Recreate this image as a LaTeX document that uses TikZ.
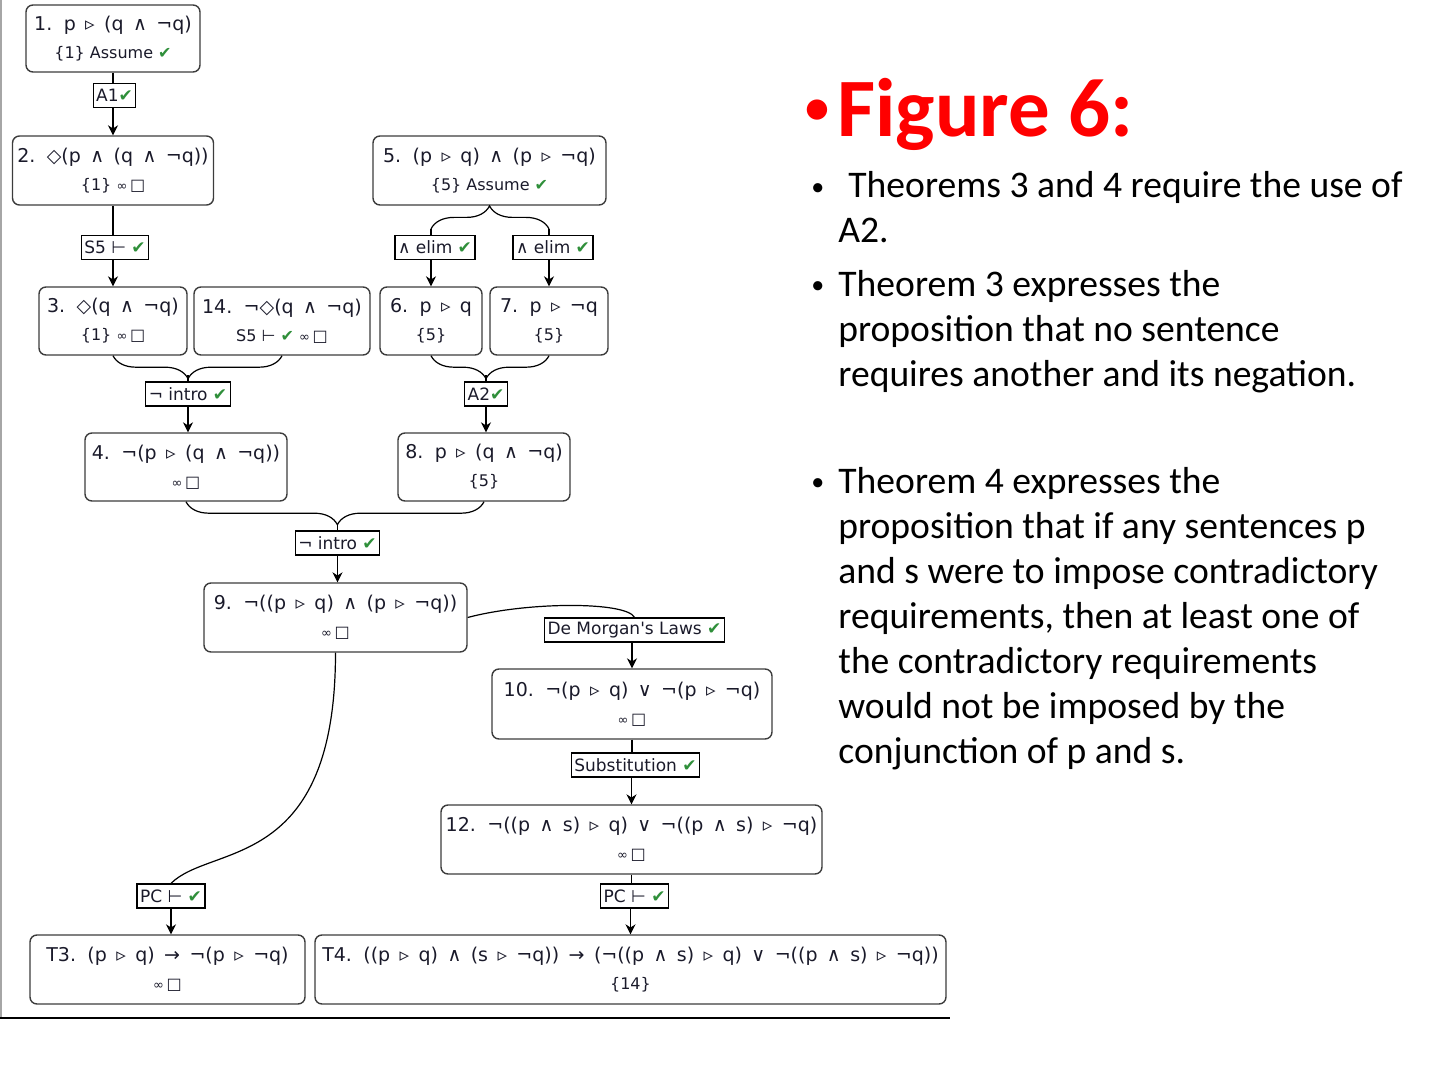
\documentclass[tikz,border=0pt]{standalone}
\usepackage{fontspec}
\setmainfont{Carlito}
\newfontfamily\pfont{DejaVu Sans}
\usetikzlibrary{arrows.meta,calc,decorations.pathreplacing}
\definecolor{cInk}  {HTML}{1A1A2A}
\definecolor{cTick} {HTML}{2F8F3A}
\definecolor{cFrame}{HTML}{3C3C3C}
\definecolor{cRule} {HTML}{A6A6A6}
\definecolor{cHead} {HTML}{FF0000}
\newcommand{\ok}{\textcolor{cTick}{✔}}
\newcommand{\nec}{{\fontsize{6.5}{8}\selectfont ∞}\,□}
\newcommand{\scnd}{\fontsize{8}{10}\selectfont\spaceskip=0pt\relax}
\newcommand{\wide}{\spaceskip=4.7pt plus 1pt minus 1pt\relax}
\tikzset{
  prf/.style    ={draw=cFrame,line width=0.7pt,rounded corners=3.5pt,align=center,
                  inner sep=0pt,text=cInk,font=\pfont\fontsize{9.5}{14}\selectfont\wide},
  rulebox/.style={draw=black,line width=0.6pt,inner xsep=1.5pt,inner ysep=0pt,
                  minimum height=12pt,text=cInk,font=\pfont\fontsize{8.5}{10}\selectfont},
  con/.style    ={draw=black,line width=0.6pt},
  arr/.style    ={con,-{Stealth[length=5pt,width=5pt]}},
  brc/.style    ={con,decorate,decoration={brace,amplitude=11.5pt,aspect=#1}},
  bul/.style    ={anchor=base west,inner sep=0pt,align=left,text=black,
                  font=\fontsize{18.8}{22.5}\selectfont},
  dot/.style    ={anchor=base west,inner sep=0pt,text=black,font=\fontsize{13}{13}\selectfont},
}

\begin{document}
\begin{tikzpicture}[x=0.5pt,y=-0.5pt]
\useasboundingbox (0,0) rectangle (1440,1080);

% ===== edge of the cut-out =================================================
\draw[cRule,line width=0.8pt] (1,0) -- (1,1018);
\draw[black,line width=1pt] (0,1018) -- (950,1018);

% ===== left branch: assumption 1 ===========================================
\node[prf,minimum width=87pt,minimum height=33.5pt] (n1) at (113,38.5)
  {1. p ▹ (q ∧ ¬q)\\{\scnd\{1\} Assume \ok}};
\node[rulebox] (a1) at (114.5,95.5) {A1\ok};
\node[prf,minimum width=100.5pt,minimum height=34.5pt] (n2) at (113,170.5)
  {2. ◇(p ∧ (q ∧ ¬q))\\{\scnd\{1\} \nec}};
\node[rulebox] (s5) at (115,247.5) {S5 ⊢ \ok};
\node[prf,minimum width=74pt,minimum height=34pt] (n3) at (113,321)
  {3. ◇(q ∧ ¬q)\\{\scnd\{1\} \nec}};
\node[prf,minimum width=88pt,minimum height=34pt] (n14) at (282,321)
  {14. ¬◇(q ∧ ¬q)\\{\scnd S5 ⊢ \ok\ \nec}};
\node[rulebox] (ni1) at (188,394) {¬ intro \ok};
\node[prf,minimum width=101pt,minimum height=34pt] (n4) at (186,467)
  {4. ¬(p ▹ (q ∧ ¬q))\\{\scnd\nec}};

\draw[con] (n1.south) -- (n1.south |- a1.north);
\draw[arr] (n2.north |- a1.south) -- (n2.north);
\draw[con] (n2.south) -- (n2.south |- s5.north);
\draw[arr] (n3.north |- s5.south) -- (n3.north);
\draw[brc=0.556] (n14.south) -- (n3.south);
\draw[con] ($(ni1.north)+(0,-6)$) -- (ni1.north);
\draw[arr] (ni1.south) -- (ni1.south |- n4.north);

% ===== right branch: assumption 5 ==========================================
\node[prf,minimum width=116.5pt,minimum height=34.5pt] (n5) at (489.5,170.5)
  {5. (p ▹ q) ∧ (p ▹ ¬q)\\{\scnd\{5\} Assume \ok}};
\node[rulebox] (e1) at (435,247.5) {∧ elim \ok};
\node[rulebox] (e2) at (553,247.5) {∧ elim \ok};
\node[prf,minimum width=51pt,minimum height=34pt] (n6) at (431,321)
  {6. p ▹ q\\{\scnd\{5\}}};
\node[prf,minimum width=59pt,minimum height=34pt] (n7) at (549,321)
  {7. p ▹ ¬q\\{\scnd\{5\}}};
\node[rulebox] (a2) at (486,394) {A2\ok};
\node[prf,minimum width=86pt,minimum height=34pt] (n8) at (484,467)
  {8. p ▹ (q ∧ ¬q)\\{\scnd\{5\}}};

\coordinate (u6) at ($(n6.north |- e1.north)+(0,-6)$);
\coordinate (u7) at ($(n7.north |- e2.north)+(0,-6)$);
\draw[brc=0.496] (u6) -- (u7);
\draw[con] (u6) -- (u6 |- e1.north);
\draw[con] (u7) -- (u7 |- e2.north);
\draw[arr] (n6.north |- e1.south) -- (n6.north);
\draw[arr] (n7.north |- e2.south) -- (n7.north);
\draw[brc=0.534] (n7.south) -- (n6.south);
\draw[con] ($(a2.north)+(0,-6)$) -- (a2.north);
\draw[arr] (a2.south) -- (a2.south |- n8.north);

% ===== merge and the two theorems ==========================================
\node[rulebox] (ni2) at (337.5,543) {¬ intro \ok};
\node[prf,minimum width=131.5pt,minimum height=34.5pt] (n9) at (335.5,617.5)
  {9. ¬((p ▹ q) ∧ (p ▹ ¬q))\\{\scnd\nec}};
\node[rulebox] (dm) at (634.5,630) {De Morgan's Laws \ok};
\node[prf,minimum width=140pt,minimum height=35pt] (n10) at (632,704)
  {10. ¬(p ▹ q) ∨ ¬(p ▹ ¬q)\\{\scnd\nec}};
\node[rulebox] (sb) at (635.5,765) {Substitution \ok};
\node[prf,minimum width=190.5pt,minimum height=34.5pt] (n12) at (631.5,839.5)
  {12. ¬((p ∧ s) ▹ q) ∨ ¬((p ∧ s) ▹ ¬q)\\{\scnd\nec}};
\node[rulebox] (pc1) at (171,896) {PC ⊢ \ok};
\node[rulebox] (pc2) at (634.5,896) {PC ⊢ \ok};
\node[prf,minimum width=137.5pt,minimum height=34.5pt] (t3) at (167.5,969.5)
  {T3. (p ▹ q) → ¬(p ▹ ¬q)\\{\scnd\nec}};
\node[prf,minimum width=315.5pt,minimum height=34.5pt] (t4) at (630.5,969.5)
  {T4. ((p ▹ q) ∧ (s ▹ ¬q)) → (¬((p ∧ s) ▹ q) ∨ ¬((p ∧ s) ▹ ¬q))\\{\scnd\{14\}}};

\draw[brc=0.492] (n8.south) -- (n4.south);
\draw[con] ($(ni2.north)+(0,-6)$) -- (ni2.north);
\draw[arr] (ni2.south) -- (ni2.south |- n9.north);
\draw[con] (n9.east) .. controls +(60,-16) and +(-8,-16) .. (dm.north);
\draw[arr] (n10.north |- dm.south) -- (n10.north);
\draw[con] (n10.south) -- (n10.south |- sb.north);
\draw[arr] (n12.north |- sb.south) -- (n12.north);
\draw[con] (n12.south) -- (n12.south |- pc2.north);
\draw[arr] (t4.north |- pc2.south) -- (t4.north);
% 9 feeds T3 along a long bend down the left
\draw[con] (n9.south) .. controls +(0,220) and +(40,-40) .. (pc1.north);
\draw[arr] (pc1.south) -- (pc1.south |- t3.north);

% ===== slide text ==========================================================
\node[anchor=base west,inner sep=0pt,text=cHead,
      font=\fontsize{24}{24}\selectfont\bfseries] (d0) at (805,124) {•};
\node[anchor=base west,inner sep=0pt,text=cHead,
      font=\fontsize{41.5}{48}\selectfont\bfseries] (ttl) at (837,137) {Figure 6:};
\node[dot] (d1) at (811,196) {•};
\node[dot] (d2) at (811,294) {•};
\node[dot] (d3) at (811,490) {•};
% multi-line blocks hang from the baseline of their last line
\node[bul] (b1) at (838,243) {\hspace*{5pt}Theorems 3 and 4 require the use of\\A2.};
\node[bul] (b2) at (838,387) {Theorem 3 expresses the\\proposition that no sentence\\requires another and its negation.};
\node[bul] (b3) at (838,763) {Theorem 4 expresses the\\proposition that if any sentences p\\and s were to impose contradictory\\requirements, then at least one of\\the contradictory requirements\\would not be imposed by the\\conjunction of p and s.};
\end{tikzpicture}
\end{document}
